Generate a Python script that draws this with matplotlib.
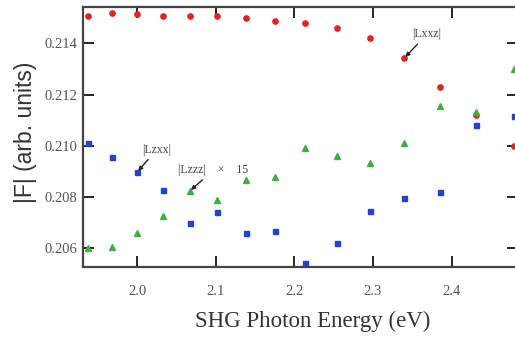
import matplotlib
matplotlib.use('Agg')
import matplotlib.pyplot as plt

# SHG photon energies (eV)
energy = [1.937, 1.968, 2.000, 2.033, 2.067, 2.102, 2.138, 2.175,
          2.214, 2.254, 2.296, 2.340, 2.385, 2.431, 2.480]

# |Lxxz| (red circles)
lxxz = [0.21507, 0.21518, 0.21514, 0.21507, 0.21507, 0.21507, 0.21499, 0.21487,
        0.21479, 0.21460, 0.21420, 0.21343, 0.21230, 0.21120, 0.21000]
# |Lzxx| (blue squares)
lzxx = [0.21011, 0.20956, 0.20898, 0.20828, 0.20699, 0.20742, 0.20660, 0.20668,
        0.20543, 0.20621, 0.20746, 0.20796, 0.20820, 0.21081, 0.21116]
# |Lzzz| x 15 (green triangles)
lzzz = [0.20601, 0.20605, 0.20660, 0.20727, 0.20824, 0.20788, 0.20867, 0.20879,
        0.20991, 0.20960, 0.20933, 0.21011, 0.21155, 0.21132, 0.21300]

xticks = [2.0, 2.1, 2.2, 2.3, 2.4]
yticks = [0.206, 0.208, 0.210, 0.212, 0.214]

fig = plt.figure(figsize=(5.15, 3.41), dpi=100)
ax = fig.add_axes([0.161, 0.217, 0.845, 0.7625])

ax.plot(energy, lxxz, 'o', color='#e02424', markersize=3.8, clip_on=False)
ax.plot(energy, lzxx, 's', color='#2244cc', markersize=3.6, clip_on=False)
ax.plot(energy, lzzz, '^', color='#3cb043', markersize=3.8, clip_on=False)

ax.set_xlim(1.9308, 2.4846)
ax.set_ylim(0.20527, 0.21542)
ax.set_xticks(xticks)
ax.set_yticks(yticks)
ax.set_xticklabels(['{:.1f}'.format(x) for x in xticks])
ax.set_yticklabels(['{:.3f}'.format(y) for y in yticks])
ax.tick_params(direction='in', length=8, width=1.2, top=True, right=True,
               labelsize=10.5, labelcolor='#555555')
ax.tick_params(axis='x', pad=13)
ax.tick_params(axis='y', pad=4)
for lab in ax.get_xticklabels() + ax.get_yticklabels():
    lab.set_family('Liberation Serif')
for sp in ax.spines.values():
    sp.set_linewidth(1.6)
    sp.set_color('#444444')
ax.spines['right'].set_visible(False)

ax.set_xlabel('SHG Photon Energy (eV)', family='Liberation Serif', fontsize=16.5,
              color='#333333')
ax.xaxis.set_label_coords(0.528, -0.17)
ax.set_ylabel('|F| (arb. units)', family='Liberation Sans', fontsize=16.5,
              color='#333333')
ax.yaxis.set_label_coords(-0.105, 0.519)

arrow = dict(arrowstyle='-|>', color='#222222', lw=1.0, mutation_scale=6,
             shrinkA=1, shrinkB=1)
txt = dict(family='Liberation Serif', fontsize=8.5, color='#444444', ha='center', va='center')
ax.annotate('|Lxxz|', xy=(energy[11], lxxz[11]), xytext=(16, 17),
            textcoords='offset points', arrowprops=arrow, **txt)
ax.annotate('|Lzxx|', xy=(energy[2], lzxx[2]), xytext=(14, 16),
            textcoords='offset points', arrowprops=arrow, **txt)
ax.annotate('|Lzzz|    \u00d7    15', xy=(energy[4], lzzz[4]), xytext=(17, 15),
            textcoords='offset points', arrowprops=arrow, **txt)

fig.savefig('out.png', dpi=100)
